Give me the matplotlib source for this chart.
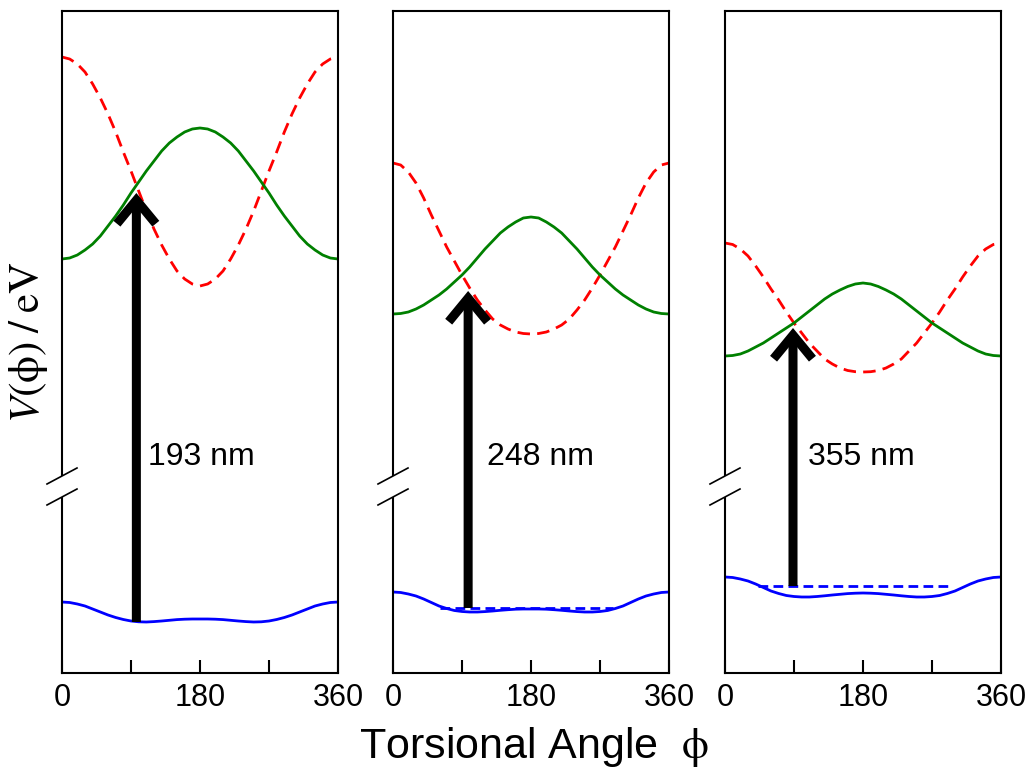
import numpy as np
import matplotlib
matplotlib.use("Agg")
import matplotlib.pyplot as plt
from matplotlib.patches import FancyArrowPatch

plt.rcParams['font.family'] = ['Liberation Sans', 'DejaVu Sans']
plt.rcParams['mathtext.fontset'] = 'stix'

# torsional angle grid (degrees)
phi = [0, 10, 20, 30, 40, 50, 60, 70, 80, 90, 100, 110, 120, 130, 140, 150, 160, 170, 180,
       190, 200, 210, 220, 230, 240, 250, 260, 270, 280, 290, 300, 310, 320, 330, 340, 350, 360]

# panel 1 (193 nm)
red1 = [6.16, 6.14, 6.09, 6.01, 5.89, 5.75, 5.59, 5.41, 5.21, 5.02, 4.82, 4.62, 4.44, 4.28,
        4.14, 4.02, 3.94, 3.89, 3.87, 3.89, 3.94, 4.02, 4.14, 4.28, 4.44, 4.62, 4.82, 5.02,
        5.21, 5.41, 5.59, 5.75, 5.89, 6.01, 6.09, 6.14, 6.16]
green1 = [4.14, 4.15, 4.18, 4.23, 4.29, 4.37, 4.47, 4.57, 4.68, 4.80, 4.91, 5.02, 5.12, 5.22,
          5.30, 5.36, 5.41, 5.44, 5.45, 5.44, 5.41, 5.36, 5.30, 5.22, 5.12, 5.02, 4.91, 4.80,
          4.68, 4.57, 4.47, 4.37, 4.29, 4.23, 4.18, 4.15, 4.14]
blue1 = [0.71, 0.705, 0.69, 0.67, 0.64, 0.61, 0.58, 0.555, 0.535, 0.52, 0.512, 0.51, 0.514,
         0.52, 0.527, 0.534, 0.538, 0.54, 0.54, 0.54, 0.538, 0.534, 0.527, 0.52, 0.514, 0.51,
         0.512, 0.52, 0.535, 0.555, 0.58, 0.61, 0.64, 0.67, 0.69, 0.705, 0.71]

# panel 2 (248 nm)
red2 = [5.10, 5.08, 5.01, 4.90, 4.75, 4.58, 4.42, 4.26, 4.12, 3.98, 3.85, 3.73, 3.63, 3.54,
        3.48, 3.44, 3.41, 3.395, 3.39, 3.395, 3.41, 3.44, 3.48, 3.54, 3.63, 3.73, 3.85, 3.98,
        4.12, 4.26, 4.42, 4.58, 4.75, 4.90, 5.01, 5.08, 5.10]
green2 = [3.59, 3.595, 3.61, 3.64, 3.68, 3.73, 3.78, 3.84, 3.91, 3.98, 4.06, 4.15, 4.24, 4.32,
          4.40, 4.46, 4.51, 4.55, 4.56, 4.55, 4.51, 4.46, 4.40, 4.32, 4.24, 4.15, 4.06, 3.98,
          3.91, 3.84, 3.78, 3.73, 3.68, 3.64, 3.61, 3.595, 3.59]
blue2 = [0.81, 0.805, 0.79, 0.77, 0.74, 0.705, 0.67, 0.645, 0.625, 0.615, 0.61, 0.61, 0.614,
         0.62, 0.627, 0.633, 0.638, 0.64, 0.64, 0.64, 0.638, 0.633, 0.627, 0.62, 0.614, 0.61,
         0.61, 0.615, 0.625, 0.645, 0.67, 0.705, 0.74, 0.77, 0.79, 0.805, 0.81]

# panel 3 (355 nm)
red3 = [4.30, 4.285, 4.24, 4.17, 4.07, 3.96, 3.84, 3.73, 3.61, 3.50, 3.40, 3.30, 3.22, 3.14,
        3.09, 3.05, 3.025, 3.013, 3.01, 3.013, 3.025, 3.05, 3.09, 3.14, 3.22, 3.30, 3.40, 3.50,
        3.61, 3.73, 3.84, 3.96, 4.07, 4.17, 4.24, 4.285, 4.30]
green3 = [3.17, 3.175, 3.19, 3.22, 3.26, 3.30, 3.35, 3.40, 3.45, 3.50, 3.56, 3.62, 3.68, 3.74,
          3.79, 3.83, 3.865, 3.89, 3.90, 3.89, 3.865, 3.83, 3.79, 3.74, 3.68, 3.62, 3.56, 3.50,
          3.45, 3.40, 3.35, 3.30, 3.26, 3.22, 3.19, 3.175, 3.17]
blue3 = [0.96, 0.955, 0.94, 0.92, 0.89, 0.855, 0.82, 0.795, 0.775, 0.765, 0.76, 0.76, 0.765,
         0.772, 0.78, 0.787, 0.794, 0.798, 0.80, 0.798, 0.794, 0.787, 0.78, 0.772, 0.765, 0.76,
         0.76, 0.765, 0.775, 0.795, 0.82, 0.855, 0.89, 0.92, 0.94, 0.955, 0.96]

labels = ["193 nm", "248 nm", "355 nm"]
# excitation arrows: angle, start energy, end energy
arrow_x = [97, 98, 88.7]
arrow_y0 = [0.51, 0.65, 0.87]
arrow_y1 = [4.80, 3.82, 3.45]
# vibrational level (dashed blue): energy, start angle, end angle
level_y = [None, 0.65, 0.87]
level_x0 = [None, 61, 43]
level_x1 = [None, 287, 297]
label_x = [112.6, 122.6, 108.3]
label_y = 2.16

reds = [red1, red2, red3]
greens = [green1, green2, green3]
blues = [blue1, blue2, blue3]

fig = plt.figure(figsize=(10.31, 7.67), dpi=100)
lefts = [62, 393, 725]
for i in range(3):
    ax = fig.add_axes([lefts[i] / 1031, 94 / 767, 276 / 1031, 662 / 767])
    ax.plot(phi, reds[i], color='red', lw=2.0, dashes=(4.5, 2.6))
    ax.plot(phi, greens[i], color='#008000', lw=2.0)
    ax.plot(phi, blues[i], color='blue', lw=2.0)
    if level_y[i] is not None:
        ax.plot([level_x0[i], level_x1[i]], [level_y[i], level_y[i]],
                color='blue', lw=2.0, dashes=(3.5, 1.9))
    arr = FancyArrowPatch((arrow_x[i], arrow_y0[i]), (arrow_x[i], arrow_y1[i]),
                          arrowstyle='->,head_length=17,head_width=14',
                          mutation_scale=1, lw=6.5, color='black',
                          shrinkA=0, shrinkB=0, capstyle='butt', joinstyle='miter',
                          zorder=5)
    ax.add_patch(arr)
    ax.text(label_x[i], label_y, labels[i], fontsize=23, va='center', ha='left')

    ax.set_xlim(0, 360)
    ax.set_ylim(0, 6.62)
    ax.set_xticks([0, 90, 180, 270, 360], ['0', '', '180', '', '360'])
    ax.set_yticks([])
    ax.tick_params(axis='x', direction='in', length=9.5, width=1.5,
                   labelsize=22, pad=7)
    for s in ax.spines.values():
        s.set_linewidth(1.5)

    # axis break marks on the left spine
    dx = 15 / 276
    dy = 8 / 662
    yb1 = (673 - 476) / 662
    yb2 = (673 - 497) / 662
    ax.plot([0, 0], [yb2, yb1], color='white', lw=3, transform=ax.transAxes,
            clip_on=False, zorder=6, solid_capstyle='butt')
    for yb in (yb1, yb2):
        ax.plot([-dx, dx], [yb - dy, yb + dy], color='black', lw=1.2,
                transform=ax.transAxes, clip_on=False, zorder=7)

fig.text(28 / 1031, 1 - 342 / 767, r'$V(\mathrm{\phi})\;/\;\mathrm{eV}$',
         rotation=90, fontsize=31, ha='center', va='center')
fig.text(359 / 1031, 1 - 758 / 767, r'Torsional Angle  $\mathrm{\phi}$',
         fontsize=31, ha='left', va='baseline')

fig.savefig("out.png", dpi=100)
